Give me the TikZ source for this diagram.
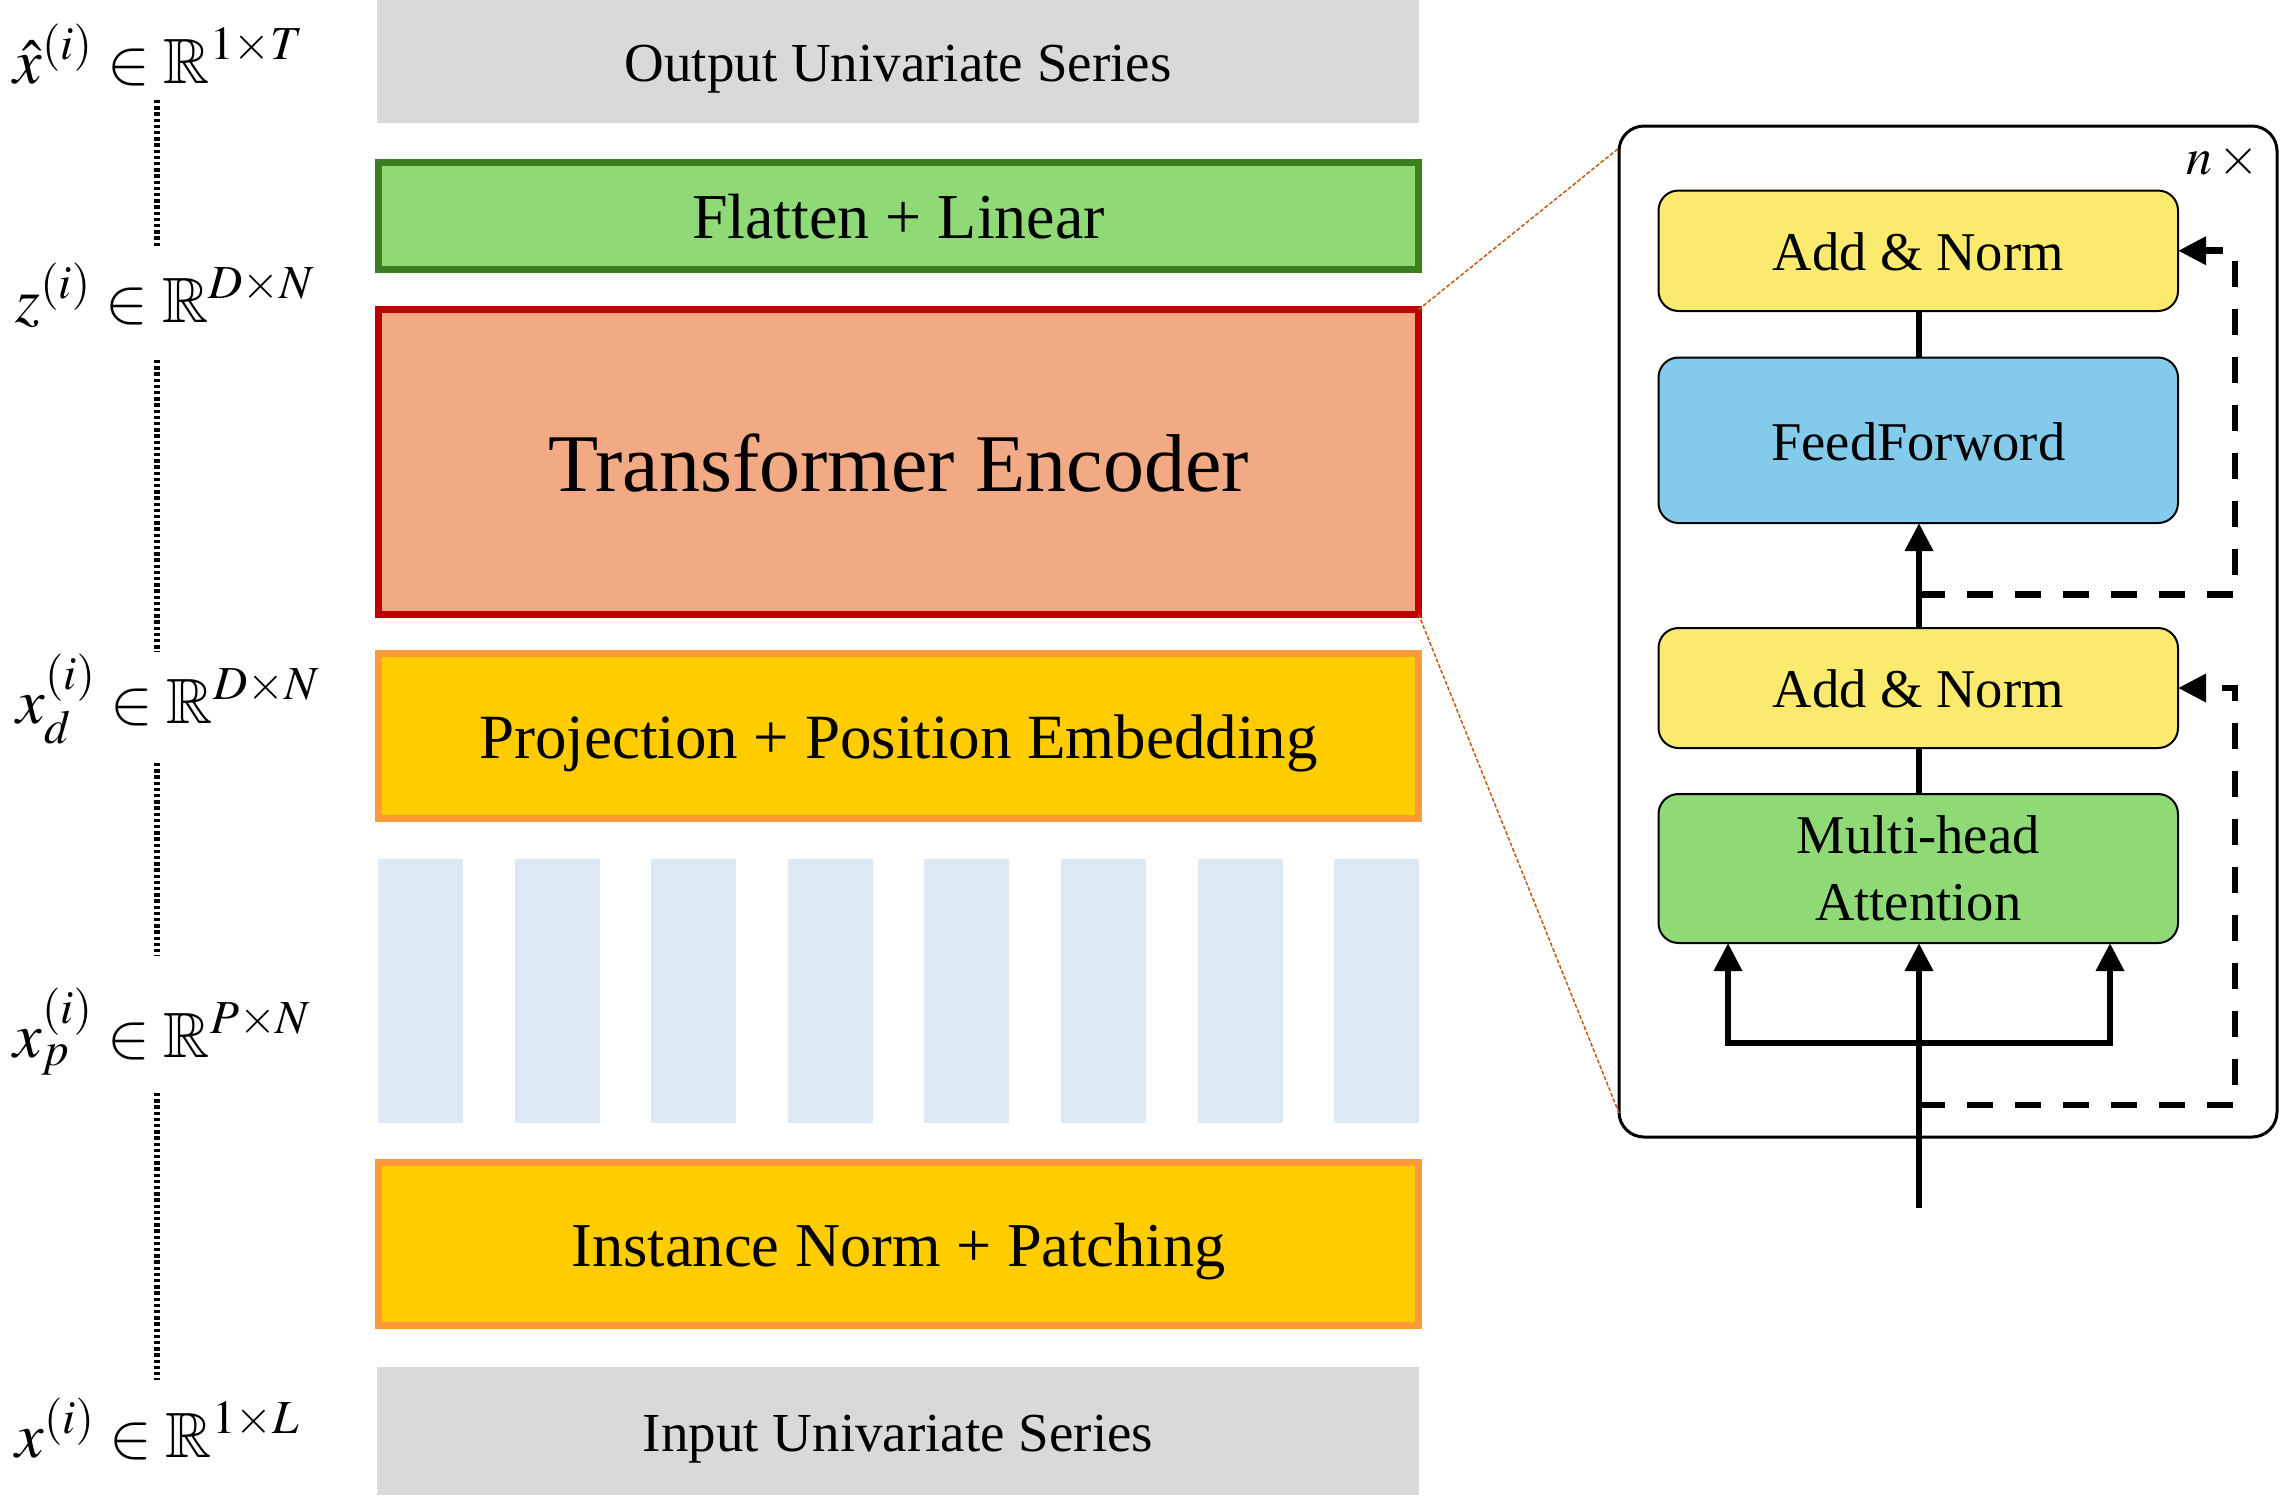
\documentclass[tikz,border=0pt]{standalone}
\usepackage{amssymb}
\usepackage{mathptmx}
\usepackage[no-math]{fontspec}
\setmainfont{Liberation Serif}
\usetikzlibrary{arrows.meta}
\definecolor{grayfill}{HTML}{D9D9D9}
\definecolor{flatgreen}{HTML}{8FDA76}
\definecolor{flatborder}{HTML}{3C7D22}
\definecolor{transfill}{HTML}{F1AA84}
\definecolor{transborder}{HTML}{C00000}
\definecolor{projfill}{HTML}{FFCC00}
\definecolor{projborder}{HTML}{FF9A36}
\definecolor{barblue}{HTML}{DDEAF6}
\definecolor{anfill}{HTML}{FAEB6F}
\definecolor{fffill}{HTML}{83CAEB}
\definecolor{mhafill}{HTML}{8FD976}
\definecolor{zoomorange}{HTML}{C55A11}
\begin{document}
\begin{tikzpicture}[x=0.5pt,y=-0.5pt,
  mainbox/.style={draw, line width=3.5pt, inner sep=0pt, outer sep=0pt, minimum width=520pt, text depth=0pt},
  graybox/.style={fill=grayfill, inner sep=0pt, outer sep=0pt, minimum width=521pt, text depth=0pt},
  patchbar/.style={fill=barblue, inner sep=0pt, outer sep=0pt, minimum width=42.5pt, minimum height=131.75pt},
  inbox/.style={draw, line width=1pt, rounded corners=10pt, minimum width=259.75pt, inner sep=0pt, outer sep=0pt, align=center, font=\fontsize{27.3}{33.5}\selectfont},
  onetext/.style={text height=19.8pt, text depth=0pt},
  lbl/.style={anchor=base west, inner sep=0pt, font=\fontsize{32}{38}\selectfont},
  flow/.style={line width=3.3pt},
  arr/.style={-{Triangle[width=13.5pt,length=14pt]}},
  dotv/.style={line width=2.6pt, dash pattern=on 1.7pt off 1.4pt},
  skipline/.style={line width=3.3pt, dash pattern=on 13pt off 11pt},
  zoomline/.style={draw=zoomorange, line width=0.75pt, dash pattern=on 2pt off 1pt}
]
\useasboundingbox (0,0) rectangle (2280,1495);

% main column
\node[graybox, minimum height=61.5pt, text height=20.3pt, font=\fontsize{27.5}{33}\selectfont] (out) at (898,61.5) {Output Univariate Series};
\node[mainbox, draw=flatborder, fill=flatgreen, minimum height=53.5pt, text height=22.6pt, font=\fontsize{32}{38}\selectfont] (flat) at (898.5,216) {Flatten + Linear};
\node[mainbox, draw=transborder, fill=transfill, minimum height=152.3pt, text height=29.3pt, font=\fontsize{41}{48}\selectfont] (trans) at (898.5,461.9) {Transformer Encoder};
\node[mainbox, draw=projborder, fill=projfill, minimum height=82.3pt, text height=22.5pt, font=\fontsize{31.5}{38}\selectfont] (proj) at (898.5,735.9) {Projection + Position Embedding};
\foreach \k in {0,...,7} {
  \node[patchbar] (bar\k) at ({420.5+\k*136.6},990.75) {};
}
\node[mainbox, draw=projborder, fill=projfill, minimum height=81.5pt, text height=22.4pt, font=\fontsize{31.2}{38}\selectfont] (inst) at (898.5,1244) {Instance Norm + Patching};
\node[graybox, minimum height=64pt, text height=20.3pt, font=\fontsize{27.5}{33}\selectfont] (inp) at (898,1431) {Input Univariate Series};

% left labels
\node[lbl] (lout) at (13,83) {$\hat{x}^{(i)}\in\mathbb{R}^{1\times T}$};
\node[lbl] (lz) at (15,322) {$z^{(i)}\in\mathbb{R}^{D\times N}$};
\node[lbl] (lxd) at (16,723) {$x_{d}^{(i)}\in\mathbb{R}^{D\times N}$};
\node[lbl] (lxp) at (13,1057) {$x_{p}^{(i)}\in\mathbb{R}^{P\times N}$};
\node[lbl] (lx) at (15,1457) {$x^{(i)}\in\mathbb{R}^{1\times L}$};

\coordinate (d1a) at (157,100);  \coordinate (d1b) at (157,248);
\coordinate (d2a) at (157,360);  \coordinate (d2b) at (157,652);
\coordinate (d3a) at (157,763);  \coordinate (d3b) at (157,956);
\coordinate (d4a) at (157,1093); \coordinate (d4b) at (157,1380);
\draw[dotv] (d1a) -- (d1b);
\draw[dotv] (d2a) -- (d2b);
\draw[dotv] (d3a) -- (d3b);
\draw[dotv] (d4a) -- (d4b);

% right panel
\node[draw, line width=1.5pt, rounded corners=12.5pt, minimum width=329pt, minimum height=505.5pt, inner sep=0pt, outer sep=0pt] (panel) at (1948,631.5) {};
\node[anchor=base west, inner sep=0pt, font=\fontsize{26}{31}\selectfont] (rep) at (2186,174) {$n\,{\times}$};

\node[inbox, onetext, fill=anfill, minimum height=60.25pt] (an1) at (1918.25,250.75) {Add \& Norm};
\node[inbox, onetext, fill=fffill, minimum height=82.75pt] (ff) at (1918.25,440.25) {FeedForword};
\node[inbox, onetext, fill=anfill, minimum height=60pt] (an2) at (1918.25,688) {Add \& Norm};
\node[inbox, fill=mhafill, minimum height=74.5pt] (mha) at (1918.25,868.5) {Multi-head\\Attention};

\coordinate (in) at (1919,1208);
\coordinate (split) at (1919,1043);
\coordinate (qL) at (1728,1043);
\coordinate (qR) at (2110,1043);
\draw[flow, arr] (in) -- (in |- mha.south);
\draw[flow, arr] (split) -- (qL) -- (qL |- mha.south);
\draw[flow, arr] (split) -- (qR) -- (qR |- mha.south);
\draw[flow] (mha.north -| in) -- (an2.south -| in);
\draw[flow, arr] (an2.north -| in) -- (ff.south -| in);
\draw[flow] (ff.north -| in) -- (an1.south -| in);

\coordinate (sk1) at (1919,1105);
\coordinate (sk1r) at (2235,1105);
\coordinate (sk2) at (1919,594.6);
\coordinate (sk2r) at (2235,594.6);
\draw[skipline, arr] (sk1) -- (sk1r) -- (sk1r |- an2.east) -- (an2.east);
\draw[skipline, arr] (sk2) -- (sk2r) -- (sk2r |- an1.east) -- (an1.east);

% zoom lines
\coordinate (zt) at (1619,148);
\coordinate (zb) at (1619,1113);
\draw[zoomline] (trans.north east) -- (zt);
\draw[zoomline] (trans.south east) -- (zb);
\end{tikzpicture}
\end{document}
